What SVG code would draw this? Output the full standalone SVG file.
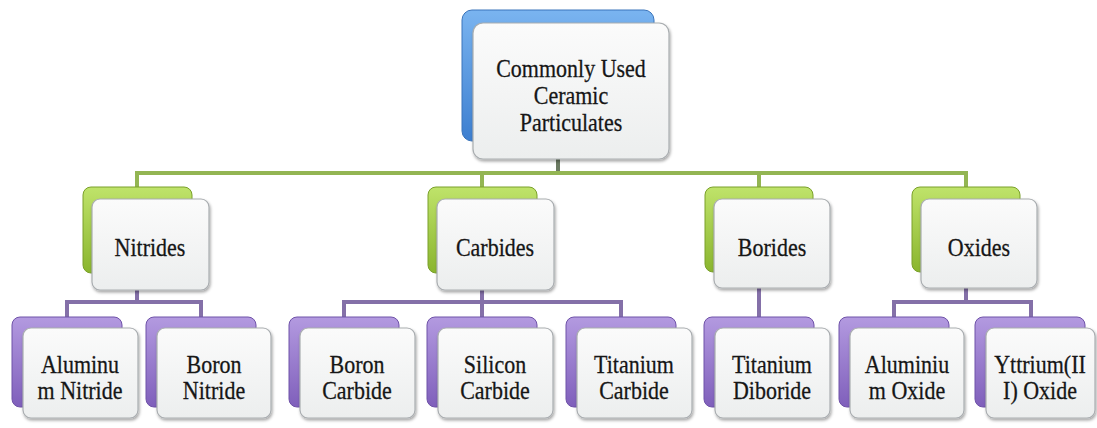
<svg xmlns="http://www.w3.org/2000/svg" width="1097" height="428" viewBox="0 0 1097 428">
<defs>
<linearGradient id="gFront" x1="0" y1="0" x2="0" y2="1"><stop offset="0" stop-color="#fbfbfb"/><stop offset="1" stop-color="#eceeee"/></linearGradient>
<linearGradient id="gBlue" x1="0" y1="0" x2="0" y2="1"><stop offset="0" stop-color="#7ab4f0"/><stop offset="1" stop-color="#3d7fd0"/></linearGradient>
<linearGradient id="gGreen" x1="0" y1="0" x2="0" y2="1"><stop offset="0" stop-color="#bfe36a"/><stop offset="1" stop-color="#8ab52e"/></linearGradient>
<linearGradient id="gPurple" x1="0" y1="0" x2="0" y2="1"><stop offset="0" stop-color="#b39ae0"/><stop offset="1" stop-color="#7f5fbb"/></linearGradient>
<filter id="sh" x="-10%" y="-10%" width="125%" height="130%"><feDropShadow dx="1" dy="2" stdDeviation="1.5" flood-color="#000" flood-opacity="0.35"/></filter>
</defs>
<style>
.front{fill:url(#gFront);stroke:#a9adb0;stroke-width:1.2;filter:url(#sh)}
.bblue{fill:url(#gBlue);stroke:#3a74bb;stroke-width:1}
.bgreen{fill:url(#gGreen);stroke:#7aa02a;stroke-width:1}
.bpurple{fill:url(#gPurple);stroke:#6f52a8;stroke-width:1}
.lg{fill:none;stroke:#93b553;stroke-width:4}
.lp{fill:none;stroke:#8470a8;stroke-width:4}
.stub{fill:none;stroke:#6b7a62;stroke-width:4}
.t{font-family:'Liberation Serif',serif;font-size:22px;fill:#161616;stroke:#161616;stroke-width:0.25;text-anchor:middle}
</style>
<rect width="1097" height="428" fill="#ffffff"/>
<g id="connectors">
<path class="stub" d="M558 159V173"/>
<path class="lg" d="M137 188V173H966V188M482 173V188M759 173V188"/>
<path class="lp" d="M137 290V302M67 318V302H201V318"/>
<path class="lp" d="M482 290V302M344 318V302H621V318M482 302V318"/>
<path class="lp" d="M759 288V318"/>
<path class="lp" d="M966 288V302M894 318V302H1031V318"/>
</g>
<g id="root">
<rect class="bblue" x="462" y="10" width="192" height="131" rx="10"/>
<rect class="front" x="473" y="23" width="196" height="136" rx="10"/>
<text class="t" transform="translate(571 77) scale(1 1.12)">Commonly Used</text>
<text class="t" transform="translate(571 104) scale(1 1.12)">Ceramic</text>
<text class="t" transform="translate(571 131) scale(1 1.12)">Particulates</text>
</g>
<g id="nitrides">
<rect class="bgreen" x="83" y="187" width="109" height="86" rx="8"/>
<rect class="front" x="92" y="199" width="117" height="91" rx="8"/>
<text class="t" transform="translate(150 256) scale(1 1.12)">Nitrides</text>
</g>
<g id="carbides">
<rect class="bgreen" x="428" y="187" width="109" height="86" rx="8"/>
<rect class="front" x="437" y="199" width="117" height="91" rx="8"/>
<text class="t" transform="translate(495 256) scale(1 1.12)">Carbides</text>
</g>
<g id="borides">
<rect class="bgreen" x="705" y="187" width="108" height="85" rx="8"/>
<rect class="front" x="714" y="199" width="116" height="89" rx="8"/>
<text class="t" transform="translate(772 256) scale(1 1.12)">Borides</text>
</g>
<g id="oxides">
<rect class="bgreen" x="912" y="187" width="108" height="85" rx="8"/>
<rect class="front" x="921" y="199" width="116" height="89" rx="8"/>
<text class="t" transform="translate(979 256) scale(1 1.12)">Oxides</text>
</g>
<g id="aluminum-nitride">
<rect class="bpurple" x="12" y="317" width="110" height="90" rx="8"/>
<rect class="front" x="23" y="328" width="115" height="90" rx="8"/>
<text class="t" transform="translate(80 373) scale(1 1.12)">Aluminu</text>
<text class="t" transform="translate(80 399) scale(1 1.12)">m Nitride</text>
</g>
<g id="boron-nitride">
<rect class="bpurple" x="146" y="317" width="110" height="90" rx="8"/>
<rect class="front" x="157" y="328" width="114" height="90" rx="8"/>
<text class="t" transform="translate(214 373) scale(1 1.12)">Boron</text>
<text class="t" transform="translate(214 399) scale(1 1.12)">Nitride</text>
</g>
<g id="boron-carbide">
<rect class="bpurple" x="289" y="317" width="110" height="90" rx="8"/>
<rect class="front" x="300" y="328" width="115" height="90" rx="8"/>
<text class="t" transform="translate(357 373) scale(1 1.12)">Boron</text>
<text class="t" transform="translate(357 399) scale(1 1.12)">Carbide</text>
</g>
<g id="silicon-carbide">
<rect class="bpurple" x="427" y="317" width="110" height="90" rx="8"/>
<rect class="front" x="438" y="328" width="115" height="90" rx="8"/>
<text class="t" transform="translate(495 373) scale(1 1.12)">Silicon</text>
<text class="t" transform="translate(495 399) scale(1 1.12)">Carbide</text>
</g>
<g id="titanium-carbide">
<rect class="bpurple" x="566" y="317" width="110" height="90" rx="8"/>
<rect class="front" x="577" y="328" width="115" height="90" rx="8"/>
<text class="t" transform="translate(634 373) scale(1 1.12)">Titanium</text>
<text class="t" transform="translate(634 399) scale(1 1.12)">Carbide</text>
</g>
<g id="titanium-diboride">
<rect class="bpurple" x="704" y="317" width="110" height="90" rx="8"/>
<rect class="front" x="715" y="328" width="115" height="90" rx="8"/>
<text class="t" transform="translate(772 373) scale(1 1.12)">Titanium</text>
<text class="t" transform="translate(772 399) scale(1 1.12)">Diboride</text>
</g>
<g id="aluminium-oxide">
<rect class="bpurple" x="839" y="317" width="110" height="90" rx="8"/>
<rect class="front" x="850" y="328" width="114" height="90" rx="8"/>
<text class="t" transform="translate(907 373) scale(1 1.12)">Aluminiu</text>
<text class="t" transform="translate(907 399) scale(1 1.12)">m Oxide</text>
</g>
<g id="yttrium-oxide">
<rect class="bpurple" x="975" y="317" width="110" height="90" rx="8"/>
<rect class="front" x="986" y="328" width="109" height="90" rx="8"/>
<text class="t" transform="translate(1040 373) scale(1 1.12)">Yttrium(II</text>
<text class="t" transform="translate(1040 399) scale(1 1.12)">I) Oxide</text>
</g>
</svg>
